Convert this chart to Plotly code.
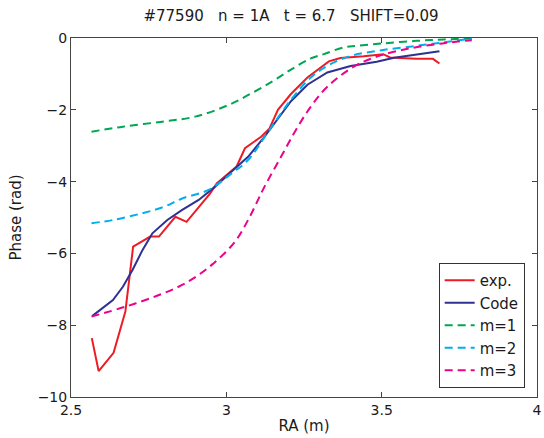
import plotly.graph_objects as go

exp_x = [2.567, 2.589, 2.637, 2.675, 2.700, 2.755, 2.783, 2.836, 2.872, 2.911, 2.948, 2.969,
         3.006, 3.033, 3.060, 3.081, 3.112, 3.139, 3.166, 3.208, 3.261, 3.330, 3.367, 3.442,
         3.505, 3.527, 3.611, 3.665, 3.686]
exp_y = [-8.36, -9.28, -8.77, -7.62, -5.81, -5.53, -5.53, -4.98, -5.12, -4.70, -4.33, -4.05,
         -3.77, -3.58, -3.07, -2.93, -2.75, -2.52, -2.00, -1.56, -1.10, -0.65, -0.56, -0.51,
         -0.45, -0.54, -0.58, -0.58, -0.71]

code_x = [2.569, 2.635, 2.667, 2.698, 2.730, 2.762, 2.810, 2.858, 2.911, 2.964, 3.017, 3.070,
          3.123, 3.144, 3.208, 3.261, 3.325, 3.400, 3.484, 3.540, 3.611, 3.686]
code_y = [-7.74, -7.30, -6.93, -6.46, -5.91, -5.44, -5.07, -4.79, -4.51, -4.14, -3.72, -3.31,
          -2.75, -2.51, -1.76, -1.30, -0.96, -0.78, -0.66, -0.55, -0.46, -0.37]

m1_x = [2.566, 2.667, 2.794, 2.900, 3.006, 3.081, 3.150, 3.208, 3.272, 3.314, 3.378, 3.420,
        3.505, 3.611, 3.700, 3.800]
m1_y = [-2.61, -2.47, -2.33, -2.19, -1.87, -1.54, -1.20, -0.88, -0.57, -0.45, -0.26, -0.22,
        -0.15, -0.08, -0.04, -0.01]

m2_x = [2.566, 2.635, 2.730, 2.800, 2.858, 2.943, 3.017, 3.070, 3.134, 3.208, 3.272, 3.330,
        3.400, 3.500, 3.611, 3.700, 3.790]
m2_y = [-5.16, -5.07, -4.88, -4.70, -4.47, -4.23, -3.77, -3.40, -2.62, -1.72, -1.10, -0.75,
        -0.50, -0.34, -0.22, -0.12, -0.02]

m3_x = [2.566, 2.677, 2.783, 2.868, 2.953, 3.028, 3.070, 3.102, 3.123, 3.176, 3.224, 3.272,
        3.325, 3.410, 3.484, 3.590, 3.696, 3.790]
m3_y = [-7.76, -7.48, -7.16, -6.83, -6.32, -5.67, -5.07, -4.51, -4.14, -3.31, -2.56, -1.91,
        -1.36, -0.80, -0.52, -0.29, -0.15, -0.06]

x_ticks = [2.5, 3, 3.5, 4]
x_tick_labels = ["2.5", "3", "3.5", "4"]
y_ticks = [0, -2, -4, -6, -8, -10]
y_tick_labels = ["0", "\u22122", "\u22124", "\u22126", "\u22128", "\u221210"]

FONT = "DejaVu Sans, Liberation Sans, sans-serif"
TXT = "#1a1a1a"
DASH = "8px,5px"

fig = go.Figure()
fig.add_trace(go.Scatter(x=exp_x, y=exp_y, mode="lines", name="exp.",
                         line=dict(color="#ed1c24", width=2)))
fig.add_trace(go.Scatter(x=code_x, y=code_y, mode="lines", name="Code",
                         line=dict(color="#2e3192", width=2)))
fig.add_trace(go.Scatter(x=m1_x, y=m1_y, mode="lines", name="m=1", line_shape="spline",
                         line=dict(color="#00a651", width=2, dash=DASH)))
fig.add_trace(go.Scatter(x=m2_x, y=m2_y, mode="lines", name="m=2", line_shape="spline",
                         line=dict(color="#00aeef", width=2, dash=DASH)))
fig.add_trace(go.Scatter(x=m3_x, y=m3_y, mode="lines", name="m=3", line_shape="spline",
                         line=dict(color="#ec008c", width=2, dash=DASH)))

axis_common = dict(showline=True, mirror="ticks", linecolor="#444", linewidth=1,
                   ticks="inside", ticklen=5, tickcolor="#444", showgrid=False,
                   zeroline=False, ticklabeloverflow="allow",
                   tickfont=dict(family=FONT, size=14, color=TXT))

fig.update_layout(
    width=544, height=438,
    margin=dict(l=71, r=2, t=38, b=41),
    paper_bgcolor="white", plot_bgcolor="white",
    title=dict(text="#77590   n = 1A   t = 6.7   SHIFT=0.09", x=0.535, xanchor="center",
               y=0.963, yanchor="middle",
               font=dict(family=FONT, size=15, color=TXT)),
    xaxis=dict(range=[2.5, 4], tickvals=x_ticks, ticktext=x_tick_labels,
               title=dict(text="RA (m)", font=dict(family=FONT, size=15, color=TXT),
                          standoff=3),
               **axis_common),
    yaxis=dict(range=[-10, 0], tickvals=y_ticks, ticktext=y_tick_labels,
               title=dict(text="Phase (rad)", font=dict(family=FONT, size=15, color=TXT),
                          standoff=12),
               **axis_common),
    legend=dict(x=0.789, y=0.373, xanchor="left", yanchor="top",
                bordercolor="#333", borderwidth=1, bgcolor="white",
                font=dict(family=FONT, size=15, color=TXT),
                itemwidth=30, tracegroupgap=0),
    showlegend=True,
)

fig.write_html("out.html")
